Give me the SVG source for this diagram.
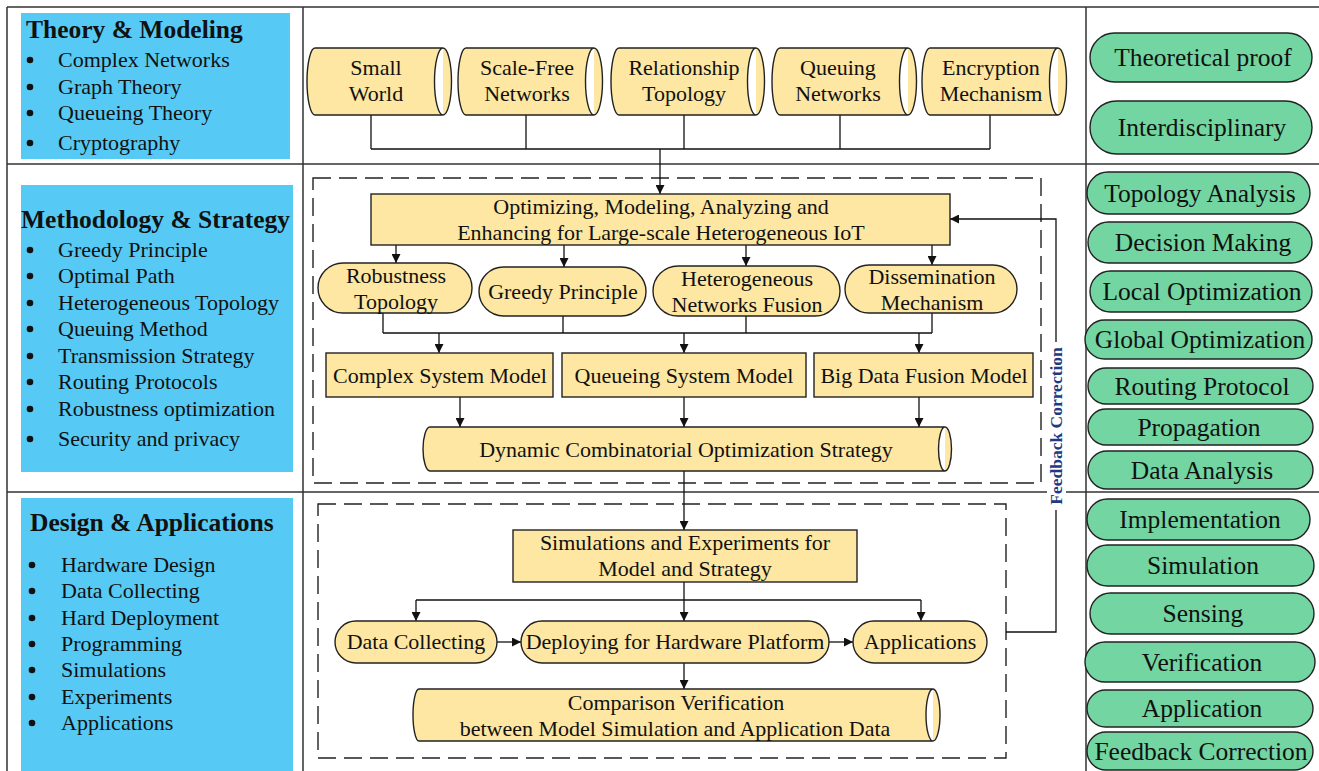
<svg xmlns="http://www.w3.org/2000/svg" width="1319" height="771" viewBox="0 0 1319 771">
<defs>
<marker id="arr" viewBox="0 0 10 10" refX="10" refY="5" markerWidth="9" markerHeight="9" markerUnits="userSpaceOnUse" orient="auto"><path d="M0,0 L10,5 L0,10 z" fill="#111"/></marker>
<style>
.t{font-family:"Liberation Serif","Times New Roman",serif;fill:#111}
.c{text-anchor:middle}
.n{font-size:22px}
.g{font-size:25.5px}
.h{font-size:25.5px;font-weight:bold}
.blue{fill:#56CAF5}
.yel{fill:#FDE7A2;stroke:#222;stroke-width:1.4}
.grn{fill:#73D5A1;stroke:#222;stroke-width:1.4}
.frame{stroke:#333;stroke-width:1.5;fill:none}
.dash{fill:none;stroke:#222;stroke-width:1.4;stroke-dasharray:18 8}
.ln{fill:none;stroke:#111;stroke-width:1.3}
.ar{fill:none;stroke:#111;stroke-width:1.3;marker-end:url(#arr)}
</style>
</defs>
<rect width="1319" height="771" fill="#fff"/>
<g id="frame">
<path class="frame" d="M7,7 H1319 M7,7 V771 M7,164 H1319 M7,492 H1319 M303,7 V771 M1086,7 V771"/>
</g>
<g id="left-theory">
<rect class="blue" x="21" y="13" width="269" height="146"/>
<text class="t h" x="26" y="38">Theory &amp; Modeling</text>
<g fill="#111"><circle cx="30" cy="60" r="3.3"/><circle cx="30" cy="87" r="3.3"/><circle cx="30" cy="113" r="3.3"/><circle cx="30" cy="143" r="3.3"/></g>
<text class="t n" x="58" y="67">Complex Networks</text>
<text class="t n" x="58" y="94">Graph Theory</text>
<text class="t n" x="58" y="120">Queueing Theory</text>
<text class="t n" x="58" y="150">Cryptography</text>
</g>
<g id="left-method">
<rect class="blue" x="21" y="185" width="272" height="287"/>
<text class="t h" x="21" y="228">Methodology &amp; Strategy</text>
<g fill="#111"><circle cx="30" cy="250" r="3.3"/><circle cx="30" cy="276" r="3.3"/><circle cx="30" cy="303" r="3.3"/><circle cx="30" cy="329" r="3.3"/><circle cx="30" cy="356" r="3.3"/><circle cx="30" cy="382" r="3.3"/><circle cx="30" cy="409" r="3.3"/><circle cx="30" cy="439" r="3.3"/></g>
<text class="t n" x="58" y="257">Greedy Principle</text>
<text class="t n" x="58" y="283">Optimal Path</text>
<text class="t n" x="58" y="310">Heterogeneous Topology</text>
<text class="t n" x="58" y="336">Queuing Method</text>
<text class="t n" x="58" y="363">Transmission Strategy</text>
<text class="t n" x="58" y="389">Routing Protocols</text>
<text class="t n" x="58" y="416">Robustness optimization</text>
<text class="t n" x="58" y="446">Security and privacy</text>
</g>
<g id="left-design">
<rect class="blue" x="21" y="498" width="272" height="273"/>
<text class="t h" x="30" y="531">Design &amp; Applications</text>
<g fill="#111"><circle cx="32" cy="565" r="3.3"/><circle cx="32" cy="591" r="3.3"/><circle cx="32" cy="618" r="3.3"/><circle cx="32" cy="644" r="3.3"/><circle cx="32" cy="670" r="3.3"/><circle cx="32" cy="697" r="3.3"/><circle cx="32" cy="723" r="3.3"/></g>
<text class="t n" x="61" y="572">Hardware Design</text>
<text class="t n" x="61" y="598">Data Collecting</text>
<text class="t n" x="61" y="625">Hard Deployment</text>
<text class="t n" x="61" y="651">Programming</text>
<text class="t n" x="61" y="677">Simulations</text>
<text class="t n" x="61" y="704">Experiments</text>
<text class="t n" x="61" y="730">Applications</text>
</g>
<g id="dashed-regions">
<rect class="dash" x="313" y="178" width="728" height="305"/>
<rect class="dash" x="318" y="504" width="688" height="254"/>
</g>
<g id="connectors">
<path class="ln" d="M371,115 V149 M526,115 V149 M684,115 V149 M840,115 V149 M990,115 V149 M371,149 H990"/>
<path class="ar" d="M660,149 V194"/>
<path class="ar" d="M396,245 V263"/>
<path class="ar" d="M564,245 V267"/>
<path class="ar" d="M746,245 V266"/>
<path class="ar" d="M932,245 V265"/>
<path class="ln" d="M383,313 V333 M563,316 V333 M746,316 V333 M932,313 V333 M383,333 H932"/>
<path class="ar" d="M439,333 V353"/>
<path class="ar" d="M684,333 V353"/>
<path class="ar" d="M919,333 V353"/>
<path class="ar" d="M460,397 V427"/>
<path class="ar" d="M684,397 V427"/>
<path class="ar" d="M919,397 V427"/>
<path class="ar" d="M684,471 V530"/>
<path class="ar" d="M684,582 V621"/>
<path class="ln" d="M416,600 H921"/>
<path class="ar" d="M416,600 V621"/>
<path class="ar" d="M921,600 V621"/>
<path class="ar" d="M497,642 H521"/>
<path class="ar" d="M829,642 H853"/>
<path class="ar" d="M684,663 V689"/>
<path class="ar" d="M1006,632 H1056 V219 H950"/>
</g>
<g id="feedback-label">
<rect x="1047" y="342" width="19" height="168" fill="#fff"/>
<text class="t c" transform="translate(1062,426) rotate(-90)" x="0" y="0" style="font-size:17.5px;font-weight:bold;fill:#1F3A80">Feedback Correction</text>
</g>
<g id="cyl-small-world">
<path class="yel" d="M315,48 H443 A8.5,33.5 0 0 1 443,115 H315 A8,33.5 0 0 1 315,48 Z M443,48 A8.5,33.5 0 0 0 443,115"/>
<text class="t n c" x="376" y="75">Small</text><text class="t n c" x="376" y="101">World</text>
</g>
<g id="cyl-scale-free">
<path class="yel" d="M466,48 H594 A8.5,33.5 0 0 1 594,115 H466 A8,33.5 0 0 1 466,48 Z M594,48 A8.5,33.5 0 0 0 594,115"/>
<text class="t n c" x="527" y="75">Scale-Free</text><text class="t n c" x="527" y="101">Networks</text>
</g>
<g id="cyl-relationship">
<path class="yel" d="M619,48 H756 A8.5,33.5 0 0 1 756,115 H619 A8,33.5 0 0 1 619,48 Z M756,48 A8.5,33.5 0 0 0 756,115"/>
<text class="t n c" x="684" y="75">Relationship</text><text class="t n c" x="684" y="101">Topology</text>
</g>
<g id="cyl-queuing">
<path class="yel" d="M780,48 H908 A8.5,33.5 0 0 1 908,115 H780 A8,33.5 0 0 1 780,48 Z M908,48 A8.5,33.5 0 0 0 908,115"/>
<text class="t n c" x="838" y="75">Queuing</text><text class="t n c" x="838" y="101">Networks</text>
</g>
<g id="cyl-encryption">
<path class="yel" d="M930,48 H1058 A8.5,33.5 0 0 1 1058,115 H930 A8,33.5 0 0 1 930,48 Z M1058,48 A8.5,33.5 0 0 0 1058,115"/>
<text class="t n c" x="991" y="75">Encryption</text><text class="t n c" x="991" y="101">Mechanism</text>
</g>
<g id="box-optimizing">
<rect class="yel" x="371" y="194" width="579" height="51"/>
<text class="t n c" x="661" y="214">Optimizing, Modeling, Analyzing and</text>
<text class="t n c" x="661" y="240">Enhancing for Large-scale Heterogeneous IoT</text>
</g>
<g id="pill-robustness">
<rect class="yel" x="318" y="263" width="154" height="50" rx="25"/>
<text class="t n c" x="396" y="283">Robustness</text><text class="t n c" x="396" y="309">Topology</text>
</g>
<g id="pill-greedy">
<rect class="yel" x="479" y="267" width="167" height="49" rx="24.5"/>
<text class="t n c" x="563" y="299">Greedy Principle</text>
</g>
<g id="pill-heterogeneous">
<rect class="yel" x="653" y="266" width="187" height="50" rx="25"/>
<text class="t n c" x="747" y="286">Heterogeneous</text><text class="t n c" x="747" y="312">Networks Fusion</text>
</g>
<g id="pill-dissemination">
<rect class="yel" x="845" y="265" width="172" height="48" rx="24"/>
<text class="t n c" x="932" y="284">Dissemination</text><text class="t n c" x="932" y="310">Mechanism</text>
</g>
<g id="box-complex">
<rect class="yel" x="326" y="353" width="227" height="44"/>
<text class="t n c" x="440" y="383">Complex System Model</text>
</g>
<g id="box-queueing">
<rect class="yel" x="562" y="353" width="244" height="44"/>
<text class="t n c" x="684" y="383">Queueing System Model</text>
</g>
<g id="box-bigdata">
<rect class="yel" x="814" y="353" width="219" height="44"/>
<text class="t n c" x="924" y="383">Big Data Fusion Model</text>
</g>
<g id="cyl-dynamic">
<path class="yel" d="M430,427 H945 A6.5,22 0 0 1 945,471 H430 A7,22 0 0 1 430,427 Z M945,427 A6.5,22 0 0 0 945,471"/>
<text class="t n c" x="686" y="457">Dynamic Combinatorial Optimization Strategy</text>
</g>
<g id="box-simulations">
<rect class="yel" x="513" y="530" width="344" height="52"/>
<text class="t n c" x="685" y="550">Simulations and Experiments for</text>
<text class="t n c" x="685" y="576">Model and Strategy</text>
</g>
<g id="pill-data-collecting">
<rect class="yel" x="335" y="621" width="162" height="42" rx="21"/>
<text class="t n c" x="416" y="649">Data Collecting</text>
</g>
<g id="pill-deploying">
<rect class="yel" x="521" y="621" width="308" height="42" rx="21"/>
<text class="t n c" x="675" y="649">Deploying for Hardware Platform</text>
</g>
<g id="pill-applications">
<rect class="yel" x="853" y="621" width="134" height="42" rx="21"/>
<text class="t n c" x="920" y="649">Applications</text>
</g>
<g id="cyl-comparison">
<path class="yel" d="M419,689 H933 A7,26 0 0 1 933,741 H419 A6,26 0 0 1 419,689 Z M933,689 A7,26 0 0 0 933,741"/>
<text class="t n c" x="676" y="710">Comparison Verification</text>
<text class="t n c" x="675" y="736">between Model Simulation and Application Data</text>
</g>
<g id="right-theoretical"><rect class="grn" x="1090" y="33" width="222" height="49" rx="24.5"/><text class="t g c" x="1203" y="66">Theoretical proof</text></g>
<g id="right-interdisciplinary"><rect class="grn" x="1090" y="101" width="222" height="53" rx="26.5"/><text class="t g c" x="1202" y="136">Interdisciplinary</text></g>
<g id="right-topology"><rect class="grn" x="1087" y="172" width="223" height="42" rx="21"/><text class="t g c" x="1200" y="202">Topology Analysis</text></g>
<g id="right-decision"><rect class="grn" x="1088" y="222" width="224" height="41" rx="20.5"/><text class="t g c" x="1203" y="251">Decision Making</text></g>
<g id="right-local"><rect class="grn" x="1090" y="271" width="222" height="41" rx="20.5"/><text class="t g c" x="1202" y="300">Local Optimization</text></g>
<g id="right-global"><rect class="grn" x="1085" y="320" width="227" height="39" rx="19.5"/><text class="t g c" x="1200" y="348">Global Optimization</text></g>
<g id="right-routing"><rect class="grn" x="1088" y="368" width="225" height="36" rx="18"/><text class="t g c" x="1202" y="395">Routing Protocol</text></g>
<g id="right-propagation"><rect class="grn" x="1088" y="409" width="225" height="36" rx="18"/><text class="t g c" x="1199" y="436">Propagation</text></g>
<g id="right-data-analysis"><rect class="grn" x="1088" y="451" width="225" height="38" rx="19"/><text class="t g c" x="1202" y="479">Data Analysis</text></g>
<g id="right-implementation"><rect class="grn" x="1087" y="499" width="223" height="41" rx="20.5"/><text class="t g c" x="1200" y="528">Implementation</text></g>
<g id="right-simulation"><rect class="grn" x="1087" y="545" width="227" height="41" rx="20.5"/><text class="t g c" x="1203" y="574">Simulation</text></g>
<g id="right-sensing"><rect class="grn" x="1090" y="593" width="224" height="41" rx="20.5"/><text class="t g c" x="1203" y="622">Sensing</text></g>
<g id="right-verification"><rect class="grn" x="1085" y="642" width="230" height="40" rx="20"/><text class="t g c" x="1202" y="671">Verification</text></g>
<g id="right-application"><rect class="grn" x="1087" y="690" width="226" height="37" rx="18.5"/><text class="t g c" x="1202" y="717">Application</text></g>
<g id="right-feedback"><rect class="grn" x="1087" y="732" width="226" height="38" rx="19"/><text class="t g c" x="1201" y="760">Feedback Correction</text></g>
</svg>
